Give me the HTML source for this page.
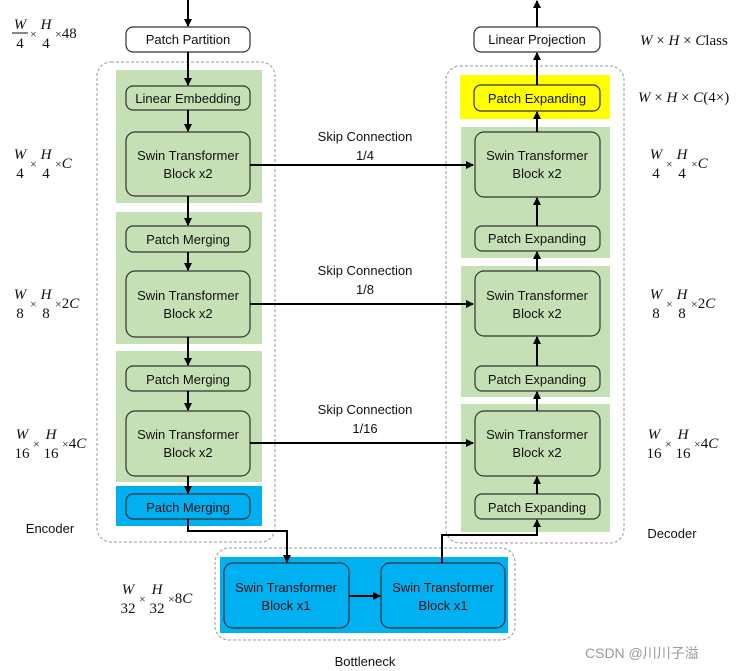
<!DOCTYPE html>
<html><head><meta charset="utf-8"><style>
html,body{margin:0;padding:0;background:#fff;}
svg{display:block;}
.t{font-family:"Liberation Sans",sans-serif;font-size:13px;fill:#111;text-anchor:middle;}
.m{font-family:"Liberation Serif",serif;font-size:15px;fill:#111;}
.i{font-style:italic;}
</style></head><body>
<svg width="737" height="671" viewBox="0 0 737 671" xmlns="http://www.w3.org/2000/svg">
<defs>
<marker id="a" markerWidth="8" markerHeight="8" refX="7" refY="4" orient="auto" markerUnits="userSpaceOnUse">
<path d="M0,0 L8,4 L0,8 z" fill="#000"/></marker>
</defs>
<g fill="none" stroke="#999" stroke-dasharray="3,2" stroke-width="1">
<rect x="97" y="62" width="178" height="480" rx="14"/>
<rect x="446" y="66" width="178" height="477" rx="14"/>
<rect x="215" y="548" width="300" height="92" rx="14"/>
</g>
<!-- encoder panels -->
<g fill="#c5e0b4">
<rect x="116" y="70" width="146" height="133"/>
<rect x="116" y="212" width="146" height="132"/>
<rect x="116" y="351" width="146" height="131"/>
<rect x="461" y="127" width="149" height="131"/>
<rect x="461" y="266" width="149" height="131"/>
<rect x="461" y="404" width="149" height="128"/>
</g>
<rect x="116" y="486" width="146" height="40" fill="#00b0f0"/>
<rect x="460" y="75" width="150" height="44" fill="#ffff00"/>
<rect x="220" y="557" width="288" height="76" fill="#00b0f0"/>
<g stroke="#333" stroke-width="1.2">
<rect x="126" y="27" width="124" height="25" rx="7" fill="#fff"/>
<rect x="474" y="27" width="126" height="25" rx="7" fill="#fff"/>
<rect x="126" y="86" width="124" height="24" rx="7" fill="#c5e0b4"/>
<rect x="126" y="132" width="124" height="64" rx="9" fill="#c5e0b4"/>
<rect x="126" y="226" width="124" height="26" rx="7" fill="#c5e0b4"/>
<rect x="126" y="271" width="124" height="66" rx="9" fill="#c5e0b4"/>
<rect x="126" y="366" width="124" height="25" rx="7" fill="#c5e0b4"/>
<rect x="126" y="411" width="124" height="65" rx="9" fill="#c5e0b4"/>
<rect x="126" y="494" width="124" height="25" rx="7" fill="#00b0f0"/>
<rect x="474" y="85" width="126" height="26" rx="7" fill="#ffff00"/>
<rect x="475" y="132" width="125" height="65" rx="9" fill="#c5e0b4"/>
<rect x="475" y="226" width="125" height="25" rx="7" fill="#c5e0b4"/>
<rect x="475" y="271" width="125" height="65" rx="9" fill="#c5e0b4"/>
<rect x="475" y="366" width="125" height="25" rx="7" fill="#c5e0b4"/>
<rect x="475" y="411" width="125" height="65" rx="9" fill="#c5e0b4"/>
<rect x="475" y="494" width="125" height="25" rx="7" fill="#c5e0b4"/>
<rect x="224" y="563" width="125" height="65" rx="9" fill="#00b0f0"/>
<rect x="381" y="563" width="124" height="65" rx="9" fill="#00b0f0"/>
</g>
<g stroke="#000" stroke-width="2" fill="none" marker-end="url(#a)">
<line x1="188" y1="0" x2="188" y2="26"/>
<line x1="188" y1="52" x2="188" y2="85"/>
<line x1="188" y1="110" x2="188" y2="131"/>
<line x1="188" y1="196" x2="188" y2="225"/>
<line x1="188" y1="252" x2="188" y2="270"/>
<line x1="188" y1="337" x2="188" y2="365"/>
<line x1="188" y1="391" x2="188" y2="410"/>
<line x1="188" y1="476" x2="188" y2="493"/>
<polyline points="188,519 188,531 287,531 287,562"/>
<line x1="349" y1="596" x2="380" y2="596"/>
<polyline points="442,563 442,535 537,535 537,520"/>
<line x1="537" y1="494" x2="537" y2="477"/>
<line x1="537" y1="411" x2="537" y2="392"/>
<line x1="537" y1="366" x2="537" y2="337"/>
<line x1="537" y1="271" x2="537" y2="252"/>
<line x1="537" y1="226" x2="537" y2="198"/>
<line x1="537" y1="132" x2="537" y2="112"/>
<line x1="537" y1="85" x2="537" y2="53"/>
<line x1="537" y1="27" x2="537" y2="1"/>
<line x1="250" y1="165" x2="473" y2="165"/>
<line x1="250" y1="304" x2="473" y2="304"/>
<line x1="250" y1="443" x2="473" y2="443"/>
</g>
<g class="t">
<text x="188" y="44">Patch Partition</text>
<text x="537" y="44">Linear Projection</text>
<text x="188" y="103">Linear Embedding</text>
<text x="188" y="160">Swin Transformer</text><text x="188" y="178">Block x2</text>
<text x="188" y="244">Patch Merging</text>
<text x="188" y="300">Swin Transformer</text><text x="188" y="318">Block x2</text>
<text x="188" y="384">Patch Merging</text>
<text x="188" y="439">Swin Transformer</text><text x="188" y="457">Block x2</text>
<text x="188" y="512">Patch Merging</text>
<text x="537" y="103">Patch Expanding</text>
<text x="537" y="160">Swin Transformer</text><text x="537" y="178">Block x2</text>
<text x="537" y="243">Patch Expanding</text>
<text x="537" y="300">Swin Transformer</text><text x="537" y="318">Block x2</text>
<text x="537" y="384">Patch Expanding</text>
<text x="537" y="439">Swin Transformer</text><text x="537" y="457">Block x2</text>
<text x="537" y="512">Patch Expanding</text>
<text x="286" y="592">Swin Transformer</text><text x="286" y="610">Block x1</text>
<text x="443" y="592">Swin Transformer</text><text x="443" y="610">Block x1</text>
<text x="365" y="141">Skip Connection</text><text x="365" y="160">1/4</text>
<text x="365" y="275">Skip Connection</text><text x="365" y="294">1/8</text>
<text x="365" y="414">Skip Connection</text><text x="365" y="433">1/16</text>
<text x="50" y="533">Encoder</text>
<text x="672" y="538">Decoder</text>
<text x="365" y="666">Bottleneck</text>
</g>
<text x="585" y="658" style="font-family:'Liberation Sans','Noto Sans CJK SC',sans-serif;font-size:14px;fill:#999;">CSDN @川川子溢</text>
<text x="640" y="45" class="m"><tspan class="i">W</tspan> × <tspan class="i">H</tspan> × <tspan class="i">C</tspan>lass</text>
<text x="638" y="102" class="m"><tspan class="i">W</tspan> × <tspan class="i">H</tspan> × <tspan class="i">C</tspan>(4×)</text>
<!-- fractions -->
<g class="m" stroke-width="0">
<g transform="translate(12,33)"><text x="8" y="-4" text-anchor="middle" class="i">W</text><line x1="0" x2="16" stroke="#111" stroke-width="1"/><text x="8" y="15" text-anchor="middle">4</text><text x="18" y="5" font-size="12">×</text><text x="34" y="-4" text-anchor="middle" class="i">H</text><line x1="26" x2="42" stroke="#111"/><text x="34" y="15" text-anchor="middle">4</text><text x="43" y="5"><tspan font-size="12">×</tspan>48</text></g>
<g transform="translate(12,163)"><text x="8" y="-4" text-anchor="middle" class="i">W</text><line x1="0" x2="16" stroke="#111"/><text x="8" y="15" text-anchor="middle">4</text><text x="18" y="5" font-size="12">×</text><text x="34" y="-4" text-anchor="middle" class="i">H</text><line x1="26" x2="42" stroke="#111"/><text x="34" y="15" text-anchor="middle">4</text><text x="43" y="5"><tspan font-size="12">×</tspan><tspan class="i">C</tspan></text></g>
<g transform="translate(12,303)"><text x="8" y="-4" text-anchor="middle" class="i">W</text><line x1="0" x2="16" stroke="#111"/><text x="8" y="15" text-anchor="middle">8</text><text x="18" y="5" font-size="12">×</text><text x="34" y="-4" text-anchor="middle" class="i">H</text><line x1="26" x2="42" stroke="#111"/><text x="34" y="15" text-anchor="middle">8</text><text x="43" y="5"><tspan font-size="12">×</tspan>2<tspan class="i">C</tspan></text></g>
<g transform="translate(12,443)"><text x="10" y="-4" text-anchor="middle" class="i">W</text><line x1="0" x2="20" stroke="#111"/><text x="10" y="15" text-anchor="middle">16</text><text x="21" y="5" font-size="12">×</text><text x="39" y="-4" text-anchor="middle" class="i">H</text><line x1="29" x2="49" stroke="#111"/><text x="39" y="15" text-anchor="middle">16</text><text x="50" y="5"><tspan font-size="12">×</tspan>4<tspan class="i">C</tspan></text></g>
<g transform="translate(118,598)"><text x="10" y="-4" text-anchor="middle" class="i">W</text><line x1="0" x2="20" stroke="#111"/><text x="10" y="15" text-anchor="middle">32</text><text x="21" y="5" font-size="12">×</text><text x="39" y="-4" text-anchor="middle" class="i">H</text><line x1="29" x2="49" stroke="#111"/><text x="39" y="15" text-anchor="middle">32</text><text x="50" y="5"><tspan font-size="12">×</tspan>8<tspan class="i">C</tspan></text></g>
<g transform="translate(648,163)"><text x="8" y="-4" text-anchor="middle" class="i">W</text><line x1="0" x2="16" stroke="#111"/><text x="8" y="15" text-anchor="middle">4</text><text x="18" y="5" font-size="12">×</text><text x="34" y="-4" text-anchor="middle" class="i">H</text><line x1="26" x2="42" stroke="#111"/><text x="34" y="15" text-anchor="middle">4</text><text x="43" y="5"><tspan font-size="12">×</tspan><tspan class="i">C</tspan></text></g>
<g transform="translate(648,303)"><text x="8" y="-4" text-anchor="middle" class="i">W</text><line x1="0" x2="16" stroke="#111"/><text x="8" y="15" text-anchor="middle">8</text><text x="18" y="5" font-size="12">×</text><text x="34" y="-4" text-anchor="middle" class="i">H</text><line x1="26" x2="42" stroke="#111"/><text x="34" y="15" text-anchor="middle">8</text><text x="43" y="5"><tspan font-size="12">×</tspan>2<tspan class="i">C</tspan></text></g>
<g transform="translate(644,443)"><text x="10" y="-4" text-anchor="middle" class="i">W</text><line x1="0" x2="20" stroke="#111"/><text x="10" y="15" text-anchor="middle">16</text><text x="21" y="5" font-size="12">×</text><text x="39" y="-4" text-anchor="middle" class="i">H</text><line x1="29" x2="49" stroke="#111"/><text x="39" y="15" text-anchor="middle">16</text><text x="50" y="5"><tspan font-size="12">×</tspan>4<tspan class="i">C</tspan></text></g>
</g>
</svg>
</body></html>
